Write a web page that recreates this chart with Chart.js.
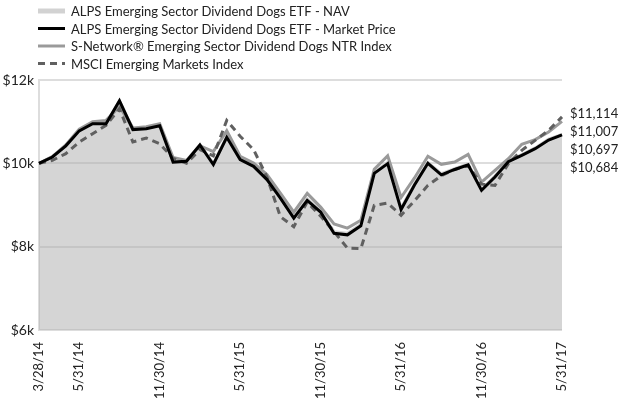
<!DOCTYPE html>
<html>
<head>
<meta charset="utf-8">
<script src="https://cdn.jsdelivr.net/npm/chart.js@4"></script>
<style>
  html, body { margin: 0; padding: 0; background: #fff; }
  #wrap { width: 620px; height: 401px; }
</style>
</head>
<body>
<div id="wrap"><canvas id="chart" width="620" height="401"></canvas></div>
<script>
const dates = [
  "3/28/14", "3/31/14", "4/30/14", "5/31/14", "6/30/14", "7/31/14", "8/31/14", "9/30/14",
  "10/31/14", "11/30/14", "12/31/14", "1/31/15", "2/28/15", "3/31/15", "4/30/15", "5/31/15",
  "6/30/15", "7/31/15", "8/31/15", "9/30/15", "10/31/15", "11/30/15", "12/31/15", "1/31/16",
  "2/29/16", "3/31/16", "4/30/16", "5/31/16", "6/30/16", "7/31/16", "8/31/16", "9/30/16",
  "10/31/16", "11/30/16", "12/31/16", "1/31/17", "2/28/17", "3/31/17", "4/30/17", "5/31/17",
];
const tickLabels = ["3/28/14", "5/31/14", "11/30/14", "5/31/15", "11/30/15", "5/31/16", "11/30/16", "5/31/17"];

const navValues = [
  10000, 10160, 10430, 10790, 10960, 10960, 11490, 10830, 10850, 10920,
  10060, 10070, 10450, 10000, 10640, 10110, 9950, 9640, 9200, 8720,
  9150, 8870, 8360, 8320, 8540, 9790, 10020, 8930, 9510, 10020,
  9750, 9870, 9990, 9380, 9700, 10060, 10210, 10370, 10580, 10697,
];
const marketValues = [
  10000, 10152, 10420, 10780, 10950, 10950, 11500, 10810, 10830, 10900,
  10030, 10050, 10440, 9972, 10625, 10089, 9928, 9610, 9165, 8685,
  9112, 8831, 8320, 8284, 8500, 9760, 9993, 8890, 9480, 10000,
  9724, 9853, 9964, 9352, 9672, 10040, 10192, 10352, 10560, 10684,
];
const indexValues = [
  10000, 10160, 10440, 10820, 11000, 11030, 11360, 10850, 10880, 10950,
  10140, 10070, 10420, 10280, 10780, 10170, 10010, 9730, 9285, 8830,
  9280, 8950, 8545, 8445, 8632, 9860, 10180, 9180, 9650, 10168,
  9976, 10031, 10216, 9551, 9832, 10112, 10456, 10569, 10752, 11007,
];
const msciValues = [
  10000, 10072, 10232, 10512, 10712, 10912, 11312, 10512, 10608, 10472,
  10120, 10000, 10330, 10180, 11030, 10650, 10330, 9672, 8720, 8480,
  9070, 8733, 8360, 7965, 7953, 8992, 9047, 8752, 9100, 9472,
  9704, 9849, 9952, 9500, 9470, 9993, 10312, 10552, 10792, 11114,
];

const FONT = "Lato, 'Open Sans', sans-serif";

// legend drawn by hand: one entry per row, top left
const legendRows = {
  id: "legendRows",
  afterDraw(chart) {
    const c = chart.ctx;
    c.save();
    c.font = "13px " + FONT;
    c.textBaseline = "middle";
    chart.data.datasets.forEach((ds, i) => {
      const y = 11 + i * 17.5;
      c.strokeStyle = ds.borderColor;
      c.lineWidth = ds.legendWidth;
      c.setLineDash(ds.borderDash || []);
      c.beginPath();
      c.moveTo(38, y);
      c.lineTo(65, y);
      c.stroke();
      c.setLineDash([]);
      c.fillStyle = "#222";
      c.fillText(ds.label, 71, y + 1);
    });
    c.restore();
  },
};

// ending values stacked to the right of the plot
const endLabels = {
  id: "endLabels",
  afterDraw(chart) {
    const c = chart.ctx;
    const ends = chart.data.datasets.map((ds) => ds.data[ds.data.length - 1]).sort((a, b) => b - a);
    const y0 = chart.scales.y.getPixelForValue(ends[0]);
    c.save();
    c.font = "13px " + FONT;
    c.fillStyle = "#222";
    c.textBaseline = "middle";
    ends.forEach((v, i) => {
      c.fillText("$" + v.toLocaleString("en-US"), chart.chartArea.right + 8, y0 - 3 + i * 18);
    });
    c.restore();
  },
};

new Chart(document.getElementById("chart"), {
  type: "line",
  data: {
    labels: dates,
    datasets: [
      {
        label: "ALPS Emerging Sector Dividend Dogs ETF - NAV",
        data: navValues,
        borderColor: "#d2d2d2",
        borderWidth: 3,
        legendWidth: 5,
        fill: "start",
        backgroundColor: "rgba(176,176,176,0.53)",
        order: 3,
      },
      {
        label: "ALPS Emerging Sector Dividend Dogs ETF - Market Price",
        data: marketValues,
        borderColor: "#000",
        borderWidth: 3,
        legendWidth: 3,
        fill: false,
        order: 0,
      },
      {
        label: "S-Network® Emerging Sector Dividend Dogs NTR Index",
        data: indexValues,
        borderColor: "#9a9a9a",
        borderWidth: 3,
        legendWidth: 3,
        fill: false,
        order: 2,
      },
      {
        label: "MSCI Emerging Markets Index",
        data: msciValues,
        borderColor: "#606060",
        borderWidth: 3,
        borderDash: [7, 5],
        legendWidth: 3,
        fill: false,
        order: 1,
      },
    ],
  },
  options: {
    responsive: false,
    animation: false,
    layout: { padding: { top: 80, right: 58, left: 0, bottom: 0 } },
    elements: { point: { radius: 0 }, line: { tension: 0 } },
    plugins: { legend: { display: false }, tooltip: { enabled: false } },
    scales: {
      x: {
        grid: { display: false },
        border: { display: false },
        afterFit: (s) => { s.height = 71; },
        ticks: {
          autoSkip: false,
          minRotation: 90,
          maxRotation: 90,
          padding: 4,
          color: "#222",
          font: { family: FONT, size: 13 },
          callback(v, i) {
            const d = dates[i];
            return tickLabels.includes(d) ? d : null;
          },
        },
      },
      y: {
        min: 6000,
        max: 12000,
        afterFit: (s) => { s.width = 39; },
        grid: { color: "#dddddd", lineWidth: 2, drawTicks: false },
        border: { display: true, color: "#dddddd", width: 2 },
        ticks: {
          stepSize: 2000,
          padding: 5,
          color: "#222",
          font: { family: FONT, size: 14 },
          callback: (v) => "$" + v / 1000 + "k",
        },
      },
    },
  },
  plugins: [legendRows, endLabels],
});
</script>
</body>
</html>
